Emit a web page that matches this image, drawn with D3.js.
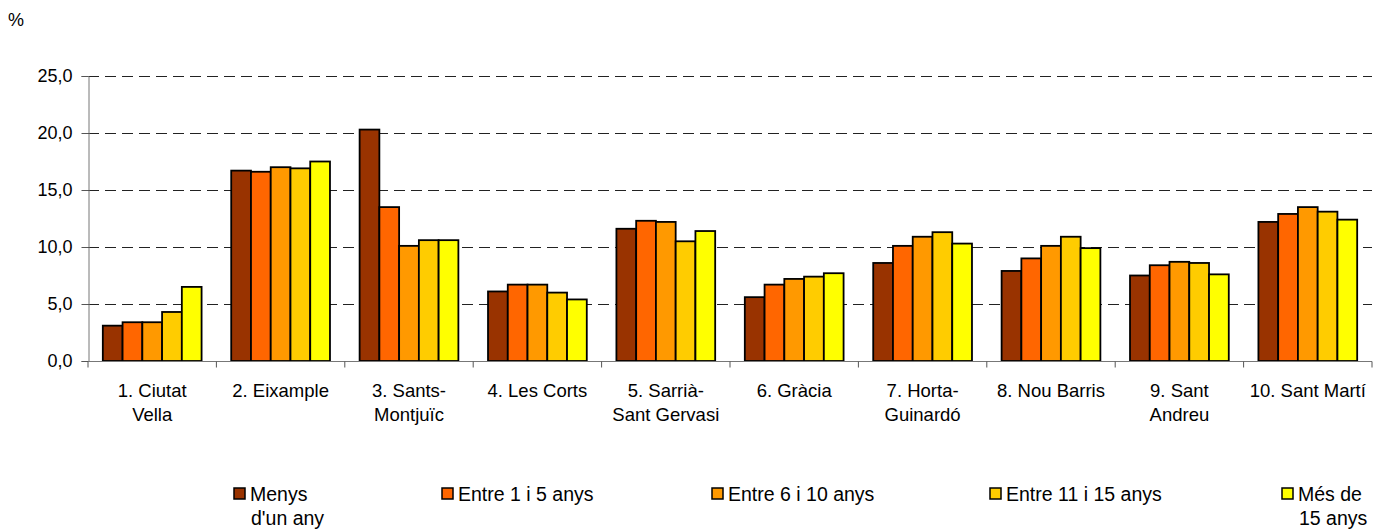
<!DOCTYPE html>
<html lang="ca">
<head>
    <meta charset="UTF-8">
    <title>Districtes</title>
    <script src="https://d3js.org/d3.v7.min.js"></script>
    <style>
        body { margin: 0; background: #fff; }
        text { font-family: "Liberation Sans", Arial, sans-serif; fill: #000; }
    </style>
</head>
<body>
    <div id="chart"></div>
    <script type="text/javascript">

        // districts (label lines)
        let districtes = [
            ["1. Ciutat", "Vella"],
            ["2. Eixample"],
            ["3. Sants-", "Montjuïc"],
            ["4. Les Corts"],
            ["5. Sarrià-", "Sant Gervasi"],
            ["6. Gràcia"],
            ["7. Horta-", "Guinardó"],
            ["8. Nou Barris"],
            ["9. Sant", "Andreu"],
            ["10. Sant Martí"]
        ];

        let series = [
            ["Menys", "d'un any"],
            ["Entre 1 i 5 anys"],
            ["Entre 6 i 10 anys"],
            ["Entre 11 i 15 anys"],
            ["Més de", "15 anys"]
        ];

        let menysUnAny = [3.1, 16.7, 20.3, 6.1, 11.6, 5.6, 8.6, 7.9, 7.5, 12.2];
        let entre1i5 = [3.4, 16.6, 13.5, 6.7, 12.3, 6.7, 10.1, 9.0, 8.4, 12.9];
        let entre6i10 = [3.4, 17.0, 10.1, 6.7, 12.2, 7.2, 10.9, 10.1, 8.7, 13.5];
        let entre11i15 = [4.3, 16.9, 10.6, 6.0, 10.5, 7.4, 11.3, 10.9, 8.6, 13.1];
        let mesDe15 = [6.5, 17.5, 10.6, 5.4, 11.4, 7.7, 10.3, 9.9, 7.6, 12.4];

        let yTicks = [0, 5, 10, 15, 20, 25];
        let colors = ["#993300", "#ff6600", "#ff9900", "#ffcc00", "#ffff00"];

        let values = [menysUnAny, entre1i5, entre6i10, entre11i15, mesDe15];

        let W = 1380, H = 529;
        let margin = { left: 88, right: 8, top: 76, bottom: 168 };

        let svg = d3.select("#chart").append("svg")
            .attr("width", W).attr("height", H);

        let x0 = d3.scaleBand()
            .domain(d3.range(districtes.length))
            .range([margin.left, W - margin.right]);

        let x1 = d3.scaleBand()
            .domain(d3.range(series.length))
            .range([0, x0.bandwidth()])
            .paddingInner(0)
            .paddingOuter(0.75);

        let y = d3.scaleLinear()
            .domain([0, 25])
            .range([H - margin.bottom, margin.top]);

        // % label
        svg.append("text").attr("x", 8).attr("y", 26)
            .style("font-size", "18px").text("%");

        // gridlines
        svg.append("g").selectAll("line")
            .data(yTicks.filter(d => d > 0))
            .enter().append("line")
            .attr("x1", margin.left).attr("x2", W - margin.right)
            .attr("y1", d => Math.round(y(d)) + 0.5).attr("y2", d => Math.round(y(d)) + 0.5)
            .attr("stroke", "#222").attr("stroke-width", 1)
            .attr("stroke-dasharray", "11,6");

        // bars
        let groups = svg.append("g").selectAll("g")
            .data(districtes)
            .enter().append("g")
            .attr("transform", (d, i) => "translate(" + x0(i) + ",0)");

        groups.selectAll("rect")
            .data((d, i) => values.map((s, j) => ({ s: j, v: s[i] })))
            .enter().append("rect")
            .attr("x", d => x1(d.s))
            .attr("width", x1.bandwidth())
            .attr("y", d => y(d.v))
            .attr("height", d => y(0) - y(d.v))
            .attr("fill", d => colors[d.s])
            .attr("stroke", "#000")
            .attr("stroke-width", 1.8);

        // y axis
        let yAxis = svg.append("g")
            .attr("transform", "translate(" + (margin.left + 0.5) + ",0)")
            .call(d3.axisLeft(y).tickValues(yTicks).tickSize(7).tickPadding(9)
                .tickFormat(d => d3.format(".1f")(d).replace(".", ",")));
        yAxis.select(".domain").attr("stroke", "#777");
        yAxis.selectAll(".tick line").attr("stroke", "#555");
        yAxis.selectAll("text").style("font-size", "18px")
            .style("font-family", "'Liberation Sans', Arial, sans-serif");

        // x axis
        let xg = svg.append("g").attr("transform", "translate(0," + (Math.round(y(0)) + 0.5) + ")");
        xg.append("line")
            .attr("x1", margin.left).attr("x2", W - margin.right)
            .attr("stroke", "#777");
        xg.selectAll(".tk")
            .data(d3.range(districtes.length + 1))
            .enter().append("line")
            .attr("x1", i => i < districtes.length ? x0(i) : x0(i - 1) + x0.bandwidth())
            .attr("x2", i => i < districtes.length ? x0(i) : x0(i - 1) + x0.bandwidth())
            .attr("y1", 0).attr("y2", 6)
            .attr("stroke", "#555");

        let labels = svg.append("g").selectAll("text")
            .data(districtes)
            .enter().append("text")
            .attr("text-anchor", "middle")
            .style("font-size", "18.5px");
        labels.selectAll("tspan")
            .data((d, i) => d.map(t => ({ t: t, i: i })))
            .enter().append("tspan")
            .attr("x", d => x0(d.i) + x0.bandwidth() / 2)
            .attr("y", (d, k) => y(0) + 36 + k * 24)
            .text(d => d.t);

        // legend
        let legX = [234, 442, 712, 990, 1282];
        let leg = svg.append("g").selectAll("g")
            .data(series)
            .enter().append("g")
            .attr("transform", (d, i) => "translate(" + legX[i] + ",488)");
        leg.append("rect")
            .attr("width", 11).attr("height", 11)
            .attr("fill", (d, i) => colors[i])
            .attr("stroke", "#000").attr("stroke-width", 1.5);
        leg.append("text")
            .style("font-size", "19.5px")
            .selectAll("tspan")
            .data(d => d)
            .enter().append("tspan")
            .attr("x", (d, k) => k == 0 ? 16 : 17)
            .attr("y", (d, k) => 13 + k * 24)
            .text(d => d);
    </script>
</body>
</html>
